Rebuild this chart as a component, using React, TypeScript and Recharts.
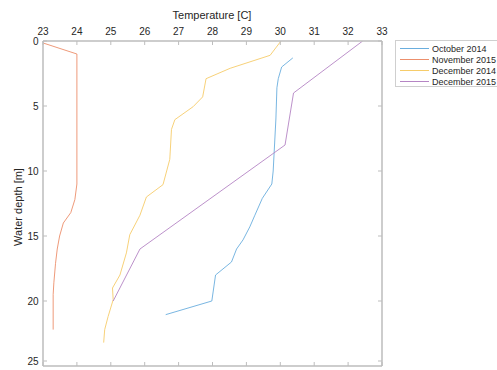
import { LineChart, Line, XAxis, YAxis, ReferenceLine } from "recharts"

const xTicks = [23, 24, 25, 26, 27, 28, 29, 30, 31, 32, 33]
const yTicks = [0, 5, 10, 15, 20, 25]

const october2014 = [
  { t: 30.37, d: 1.3 },
  { t: 30.04, d: 2.0 },
  { t: 29.94, d: 2.9 },
  { t: 29.9, d: 3.6 },
  { t: 29.87, d: 6.0 },
  { t: 29.83, d: 8.0 },
  { t: 29.79, d: 10.0 },
  { t: 29.75, d: 11.0 },
  { t: 29.47, d: 12.1 },
  { t: 29.25, d: 13.4 },
  { t: 29.1, d: 14.3 },
  { t: 28.9, d: 15.3 },
  { t: 28.71, d: 16.0 },
  { t: 28.56, d: 17.0 },
  { t: 28.09, d: 18.0 },
  { t: 27.98, d: 20.0 },
  { t: 26.62, d: 21.05 },
]

const november2015 = [
  { t: 23.0, d: 0.15 },
  { t: 24.0, d: 1.0 },
  { t: 24.0, d: 11.0 },
  { t: 23.94, d: 12.2 },
  { t: 23.82, d: 13.2 },
  { t: 23.6, d: 14.0 },
  { t: 23.49, d: 15.0 },
  { t: 23.42, d: 16.0 },
  { t: 23.37, d: 17.1 },
  { t: 23.32, d: 18.6 },
  { t: 23.3, d: 19.5 },
  { t: 23.3, d: 22.2 },
]

const december2014 = [
  { t: 30.02, d: 0.0 },
  { t: 29.7, d: 1.1 },
  { t: 28.52, d: 2.1 },
  { t: 27.81, d: 2.9 },
  { t: 27.71, d: 4.3 },
  { t: 27.43, d: 5.05 },
  { t: 26.89, d: 6.05 },
  { t: 26.79, d: 6.8 },
  { t: 26.74, d: 9.1 },
  { t: 26.54, d: 11.05 },
  { t: 26.05, d: 12.0 },
  { t: 25.86, d: 13.4 },
  { t: 25.56, d: 14.9 },
  { t: 25.46, d: 16.3 },
  { t: 25.27, d: 18.0 },
  { t: 25.05, d: 19.0 },
  { t: 25.07, d: 19.9 },
  { t: 24.92, d: 21.2 },
  { t: 24.82, d: 22.2 },
  { t: 24.79, d: 23.2 },
]

const december2015 = [
  { t: 32.43, d: 0.0 },
  { t: 30.39, d: 4.0 },
  { t: 30.14, d: 8.0 },
  { t: 25.86, d: 16.0 },
  { t: 25.07, d: 20.0 },
]

const series = [
  { name: "October 2014", data: october2014, color: "#6aaede" },
  { name: "November 2015", data: november2015, color: "#ec8f6c" },
  { name: "December 2014", data: december2014, color: "#f6cc6a" },
  { name: "December 2015", data: december2015, color: "#b585c4" },
]

const W = 497
const H = 370
const LEFT = 43
const TOP = 41
const RIGHT = 382
const BOTTOM = 366
const AXIS = "#bdbdbd"
const FONT = "'Liberation Sans', Arial, Helvetica, sans-serif"

const XTick = (props: any) => {
  const { x, payload } = props
  return (
    <g>
      <line x1={x} x2={x} y1={TOP} y2={TOP + 4} stroke={AXIS} />
      <line x1={x} x2={x} y1={BOTTOM} y2={BOTTOM - 4} stroke={AXIS} />
      <text x={x} y={35} textAnchor="middle" fontSize={10} fill="#262626" fontFamily={FONT}>
        {payload.value}
      </text>
    </g>
  )
}

const YTick = (props: any) => {
  const { y, payload } = props
  return (
    <g>
      <line x1={LEFT} x2={LEFT + 4} y1={y} y2={y} stroke={AXIS} />
      <line x1={RIGHT} x2={RIGHT - 4} y1={y} y2={y} stroke={AXIS} />
      <text x={38.5} y={y + 3.6} textAnchor="end" fontSize={10} fill="#262626" fontFamily={FONT}>
        {payload.value}
      </text>
    </g>
  )
}

// legend drawn as plain html so it doesn't eat plot space
const LegendBox = () => (
  <div
    style={{
      position: "absolute",
      left: 395,
      top: 40,
      width: 110,
      height: 47,
      boxSizing: "border-box",
      border: "1px solid #cfcfcf",
      background: "#fff",
      padding: "2px 0 0 4px",
      fontFamily: FONT,
      fontSize: 9,
      color: "#262626",
    }}
  >
    {series.map((s) => (
      <div key={s.name} style={{ display: "flex", alignItems: "center", height: 11, whiteSpace: "nowrap" }}>
        <span style={{ display: "inline-block", width: 29, height: 1, background: s.color, marginRight: 3 }} />
        {s.name}
      </div>
    ))}
  </div>
)

export default function App() {
  return (
    <div style={{ width: W, height: H, position: "relative", background: "#fff", overflow: "hidden" }}>
      <style>{`body{margin:0}`}</style>
      <LineChart width={W} height={H} margin={{ top: 0, right: W - RIGHT, bottom: H - BOTTOM, left: 0 }}>
        <XAxis
          type="number"
          dataKey="t"
          orientation="top"
          domain={[23, 33]}
          ticks={xTicks}
          height={TOP}
          tick={<XTick />}
          tickLine={false}
          axisLine={{ stroke: AXIS, strokeWidth: 1.5 }}
          allowDataOverflow
        />
        <YAxis
          type="number"
          dataKey="d"
          reversed
          domain={[0, 25]}
          ticks={yTicks}
          width={LEFT}
          tick={<YTick />}
          tickLine={false}
          axisLine={{ stroke: AXIS, strokeWidth: 1.5 }}
          allowDataOverflow
        />
        <ReferenceLine x={33} stroke={AXIS} strokeWidth={1.5} />
        <ReferenceLine y={25} stroke={AXIS} strokeWidth={1.5} />
        {series.map((s) => (
          <Line
            key={s.name}
            data={s.data}
            dataKey="d"
            name={s.name}
            stroke={s.color}
            strokeWidth={1}
            strokeOpacity={0.9}
            dot={false}
            type="linear"
            isAnimationActive={false}
          />
        ))}
      </LineChart>
      <LegendBox />
      <div
        style={{
          position: "absolute",
          left: 212,
          top: 9,
          whiteSpace: "nowrap",
          fontFamily: FONT,
          fontSize: 11,
          color: "#262626",
          transform: "translateX(-50%)",
        }}
      >
        Temperature [C]
      </div>
      <div
        style={{
          position: "absolute",
          left: 18,
          top: 207,
          whiteSpace: "nowrap",
          fontFamily: FONT,
          fontSize: 11,
          color: "#262626",
          transform: "translate(-50%, -50%) rotate(-90deg)",
        }}
      >
        Water depth [m]
      </div>
    </div>
  )
}
